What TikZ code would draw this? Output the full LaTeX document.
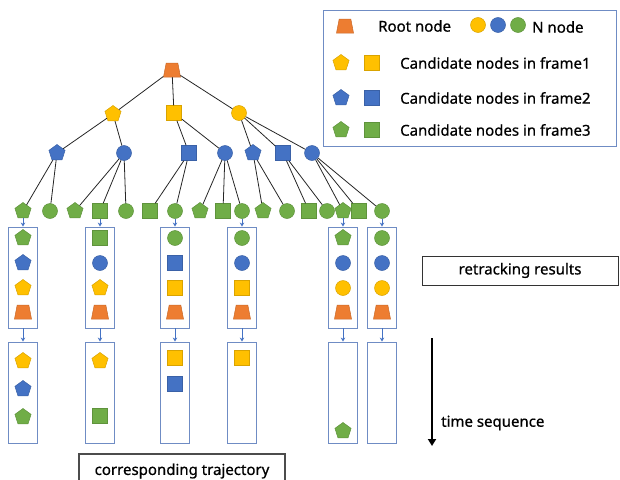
\documentclass[tikz,border=0pt]{standalone}
\usepackage{fontspec}
\setmainfont{Noto Sans}[FakeBold=0.7]
\usetikzlibrary{shapes.geometric,arrows.meta}
\definecolor{corange}{HTML}{ED7D31}
\definecolor{cyellow}{HTML}{FFC000}
\definecolor{cblue}{HTML}{4472C4}
\definecolor{cgreen}{HTML}{70AD47}
\definecolor{cframe}{HTML}{6F8CC4}
\tikzset{
    shp/.style={inner sep=0pt, line width=0.5pt},
    pent/.style={shp, regular polygon, regular polygon sides=5, minimum size=17pt},
    sq/.style={shp, rectangle, minimum size=15pt},
    circ/.style={shp, circle, minimum size=15pt},
    yp/.style={pent, fill=cyellow, draw=cyellow!85!black},
    bp/.style={pent, fill=cblue, draw=cblue!85!black},
    gp/.style={pent, fill=cgreen, draw=cgreen!85!black},
    ys/.style={sq, fill=cyellow, draw=cyellow!85!black},
    bs/.style={sq, fill=cblue, draw=cblue!85!black},
    gs/.style={sq, fill=cgreen, draw=cgreen!85!black},
    yc/.style={circ, fill=cyellow, draw=cyellow!85!black},
    bc/.style={circ, fill=cblue, draw=cblue!85!black},
    gc/.style={circ, fill=cgreen, draw=cgreen!85!black},
    rt/.style={trapezium, inner sep=0.5pt, line width=0.5pt, trapezium left angle=77,
        trapezium right angle=77, trapezium stretches=true, minimum width=17pt,
        minimum height=14pt, fill=corange, draw=corange!85!black},
    edge/.style={line width=0.8pt, black!85},
    flow/.style={-{Stealth[length=4pt,width=4.5pt]}, line width=0.8pt, cblue},
    colbox/.style={draw=cframe, line width=0.9pt, minimum width=29pt, minimum height=101pt},
    txt/.style={font=\fontsize{15}{17}\selectfont, inner sep=0pt}
}
\begin{document}
\begin{tikzpicture}[x=1pt, y=-1pt]
    \useasboundingbox (0,0) rectangle (620,479);
    % tree
    \node[rt] (root) at (172,70) {};
    \node[yp] (t1) at (113,114) {};
    \node[ys] (t2) at (174,113) {};
    \node[yc] (t3) at (239,113) {};
    \foreach \n/\s/\x in {1/bp/57, 2/bc/124, 3/bs/189, 4/bc/225, 5/bp/253, 6/bs/283, 7/bc/312}
        \node[\s] (m\n) at (\x,153) {};
    \foreach \n/\s/\x in {1/gp/23, 2/gc/50, 3/gp/75, 4/gs/100, 5/gc/126, 6/gs/150, 7/gc/175,
        8/gp/200, 9/gs/223, 10/gc/242, 11/gp/263, 12/gc/287, 13/gs/309, 14/gc/327,
        15/gp/343, 16/gs/359, 17/gc/382}
        \node[\s] (l\n) at (\x,211) {};
    \foreach \a/\b in {root/t1, root/t2, root/t3, t1/m1, t1/m2, t2/m3, t2/m4, t3/m5, t3/m6, t3/m7,
        m1/l1, m1/l2, m2/l3, m2/l4, m2/l5, m3/l6, m3/l7, m4/l8, m4/l9, m4/l10,
        m5/l11, m5/l12, m6/l13, m6/l14, m7/l15, m7/l16, m7/l17}
        \draw[edge] (\a) -- (\b);
    % retracking results and trajectories
    \foreach \i/\x/\l/\a/\b/\c in {1/23/1/gp/bp/yp, 2/100/4/gs/bc/yp, 3/175/7/gc/bs/ys,
        4/242/10/gc/bc/ys, 5/343/15/gp/bc/yc, 6/382/17/gc/bc/yc} {
        \node[colbox] (r\i) at (\x,277.5) {};
        \node[colbox] (c\i) at (\x,392.5) {};
        \node[\a] (r\i-g) at (\x,238) {};
        \node[\b] (r\i-b) at (\x,263) {};
        \node[\c] (r\i-y) at (\x,288) {};
        \node[rt] (r\i-o) at (\x,312) {};
        \draw[flow] (l\l) -- (r\i);
        \draw[flow] (r\i) -- (c\i);
    }
    \node[yp] (c1-y) at (23,361) {};
    \node[bp] (c1-b) at (23,389) {};
    \node[gp] (c1-g) at (23,417) {};
    \node[yp] (c2-y) at (100,361) {};
    \node[gs] (c2-g) at (100,416) {};
    \node[ys] (c3-y) at (175,358) {};
    \node[bs] (c3-b) at (175,384) {};
    \node[ys] (c4-y) at (242,358) {};
    \node[gp] (c5-g) at (343,431) {};
    % legend
    \node[draw=cframe, line width=0.9pt, minimum width=293pt, minimum height=136pt] (legend) at (469.5,78) {};
    \node[rt] (k-root) at (345,26) {};
    \node[txt, anchor=west] (k-roottxt) at (378,26) {Root node};
    \node[yc] (k-y) at (478,25) {};
    \node[bc] (k-b) at (498,25) {};
    \node[gc] (k-g) at (518,25) {};
    \node[txt, anchor=west] (k-ntxt) at (532,27) {N node};
    \foreach \n/\p/\s/\y in {1/yp/ys/63, 2/bp/bs/98, 3/gp/gs/130} {
        \node[\p] (k\n-p) at (341,\y) {};
        \node[\s] (k\n-s) at (372,\y) {};
        \node[txt, anchor=west] (k\n-txt) at (400,\y) {Candidate nodes in frame\n};
    }
    % labels
    \node[txt, draw=black!80, line width=0.8pt, minimum width=196pt, minimum height=29pt] (retrack) at (520,270.5) {retracking results};
    \coordinate (ts) at (432,338);
    \coordinate (te) at (432,446);
    \draw[-{Triangle[length=7pt,width=8pt]}, line width=2.3pt] (ts) -- (te);
    \node[txt, anchor=west] (timetxt) at (441,423) {time sequence};
    \node[txt, draw=black!70, line width=1.3pt, minimum width=206pt, minimum height=34pt] (traj) at (182,471) {corresponding trajectory};
\end{tikzpicture}
\end{document}
